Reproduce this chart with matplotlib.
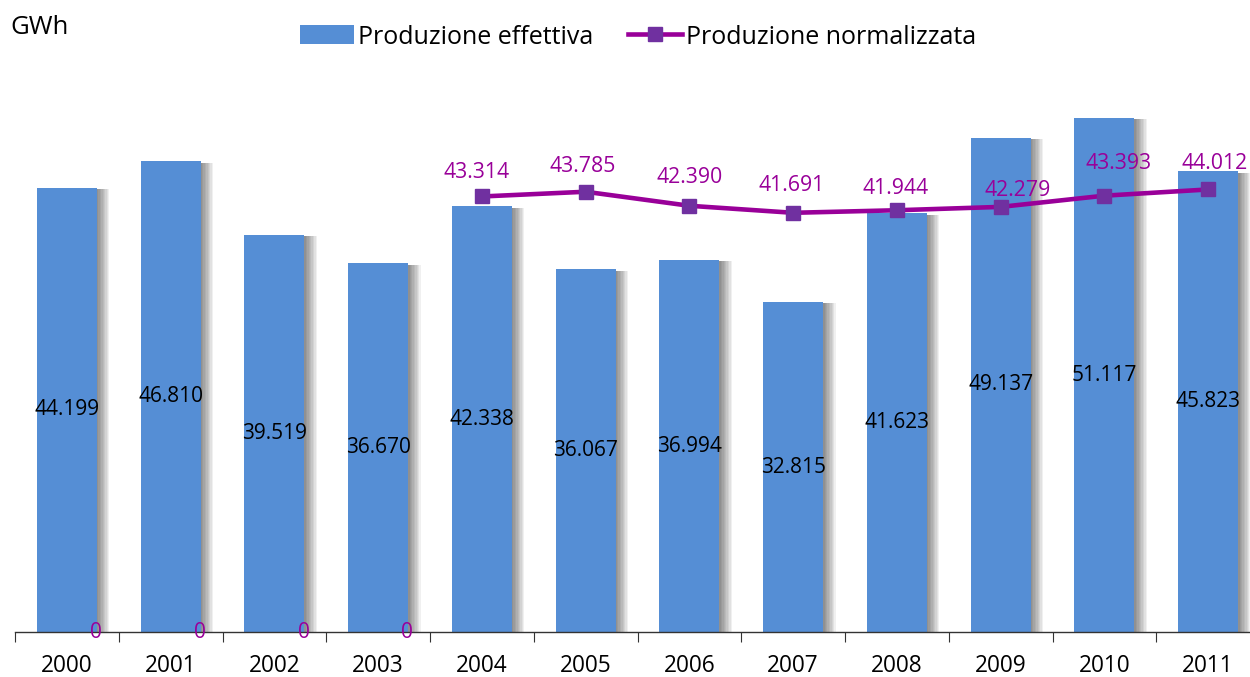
import matplotlib
matplotlib.use("Agg")
import matplotlib.pyplot as plt
import matplotlib.patheffects as pe
from matplotlib.lines import Line2D
from matplotlib.patches import Patch
import numpy as np

plt.rcParams['font.family'] = ['Open Sans', 'DejaVu Sans']

years = ['2000', '2001', '2002', '2003', '2004', '2005',
         '2006', '2007', '2008', '2009', '2010', '2011']
effettiva = [44199, 46810, 39519, 36670, 42338, 36067,
             36994, 32815, 41623, 49137, 51117, 45823]
# normalised production is only available from 2004 onwards (0 before)
normalizzata = [0, 0, 0, 0, 43314, 43785, 42390, 41691, 41944, 42279, 43393, 44012]

BAR_C = '#558ED5'
LINE_C = '#990099'
MARK_C = '#7030A0'


def fmt(v):
    return f"{v:,}".replace(',', '.')


fig = plt.figure(figsize=(12.5, 6.77), dpi=100)
ax = fig.add_axes([15 / 1250, 45 / 677, 1245 / 1250, 603.3 / 677])

x = np.arange(len(years))

# soft shadow to the right of each bar
shadow = [pe.SimplePatchShadow(offset=(k, -1), shadow_rgbFace='#000000', alpha=0.06)
          for k in range(1, 10)] + [pe.Normal()]
bars = ax.bar(x, effettiva, width=0.58, color=BAR_C, zorder=2)
for b in bars:
    b.set_path_effects(shadow)

for xi, v in zip(x, effettiva):
    ax.text(xi, v / 2, fmt(v), ha='center', va='center', fontsize=15, color='black', zorder=4)

# normalised series: line only where data exists
mask = [v > 0 for v in normalizzata]
xn = [xi for xi, m in zip(x, mask) if m]
yn = [v for v, m in zip(normalizzata, mask) if m]
ax.plot(xn, yn, color=LINE_C, lw=3.3, zorder=3,
        marker='s', markersize=10, markerfacecolor=MARK_C, markeredgecolor=MARK_C)

# label offsets (points) for the normalised series
offs = [(21, 0), (21, 0), (21, 0), (21, 0),
        (-4, 17), (-2, 18), (0, 20), (-1, 20), (-1, 16), (12, 12), (10, 23), (5, 19)]
for xi, v, (dx, dy) in zip(x, normalizzata, offs):
    if v == 0:
        ax.annotate('0', (xi, 0), xytext=(dx, dy), textcoords='offset points',
                    ha='center', va='center', fontsize=15, color=LINE_C, zorder=5)
    else:
        ax.annotate(fmt(v), (xi, v), xytext=(dx, dy), textcoords='offset points',
                    ha='center', va='center', fontsize=15.3, color=LINE_C, zorder=5)

ax.set_xlim(-0.5, len(years) - 0.5)
ax.set_ylim(0, 60000)
for s in ['top', 'right', 'left']:
    ax.spines[s].set_visible(False)
ax.spines['bottom'].set_color('#333333')
ax.spines['bottom'].set_linewidth(1.0)
ax.set_yticks([])
ax.set_xticks(np.arange(-0.5, len(years), 1.0))
ax.set_xticklabels([])
ax.tick_params(axis='x', direction='out', length=7, color='#333333')
for xi, y in zip(x, years):
    ax.text(xi, -0.057, y, transform=ax.get_xaxis_transform(), ha='center', va='center',
            fontsize=16.3, color='black')

fig.text(10 / 1250, 1 - 28 / 677, 'GWh', ha='left', va='center', fontsize=18.5, color='black')

handles = [Patch(facecolor=BAR_C, edgecolor='none'),
           Line2D([0], [0], color=LINE_C, lw=3.3, marker='s', markersize=10,
                  markerfacecolor=MARK_C, markeredgecolor=MARK_C)]
fig.legend(handles, ['Produzione effettiva', 'Produzione normalizzata'],
           loc='center', bbox_to_anchor=(638 / 1250, 1 - 37 / 677), ncol=2, frameon=False,
           fontsize=18, handlelength=2.17, handletextpad=0.15, columnspacing=1.4,
           handleheight=0.8)

fig.savefig('out.png', dpi=100)
